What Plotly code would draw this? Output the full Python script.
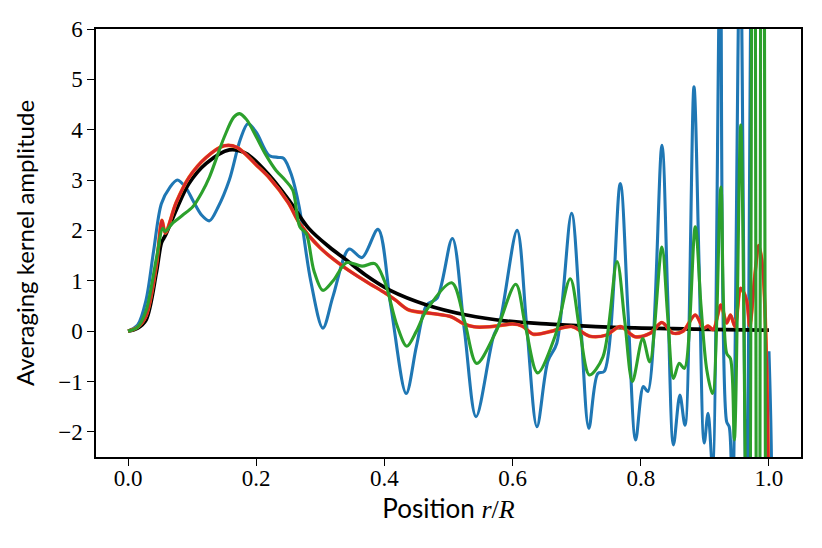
import plotly.graph_objects as go

# ---- data ----
black_x = [0.0, 0.015, 0.028, 0.044, 0.052, 0.056, 0.06, 0.075, 0.095, 0.122, 0.158, 0.184, 0.22, 0.251,
           0.282, 0.314, 0.34, 0.37, 0.409, 0.466, 0.528, 0.591, 0.658, 0.75, 0.85, 0.93, 1.0]
black_y = [0.0, 0.06, 0.22, 1.15, 1.75, 1.85, 1.95, 2.4, 2.93, 3.33, 3.6, 3.53, 3.1, 2.6,
           2.04, 1.67, 1.42, 1.12, 0.81, 0.52, 0.32, 0.2, 0.14, 0.08, 0.05, 0.03, 0.02]

red_x = [0.0, 0.015, 0.028, 0.044, 0.053, 0.058, 0.075, 0.095, 0.122, 0.15, 0.17, 0.2, 0.22, 0.25,
         0.268, 0.3, 0.336, 0.372, 0.398, 0.417, 0.438, 0.474, 0.505, 0.52, 0.54, 0.567, 0.6, 0.615,
         0.632, 0.658, 0.692, 0.72, 0.746, 0.768, 0.791, 0.815, 0.833, 0.85, 0.866, 0.885, 0.898,
         0.905, 0.913, 0.925, 0.934, 0.94, 0.947, 0.956, 0.965, 0.97, 0.978, 0.984, 0.99, 0.996, 1.0]
red_y = [0.0, 0.08, 0.3, 1.3, 2.2, 1.95, 2.55, 3.05, 3.45, 3.68, 3.65, 3.3, 3.05, 2.55,
         2.13, 1.65, 1.28, 0.98, 0.78, 0.62, 0.42, 0.35, 0.28, 0.17, 0.085, 0.09, 0.14, 0.1,
         -0.06, -0.01, 0.09, -0.1, -0.08, 0.09, -0.11, -0.04, 0.17, -0.04, 0.0, 0.32, 0.06,
         0.1, 0.03, 0.52, 0.16, 0.32, 0.09, 0.85, 0.62, 0.1, 1.1, 1.7, 1.3, -0.5, -4.0]

blue_x = [0.0, 0.015, 0.028, 0.04, 0.052, 0.065, 0.077, 0.09, 0.101, 0.115, 0.127, 0.14, 0.158, 0.175,
          0.187, 0.2, 0.22, 0.235, 0.243, 0.255, 0.267, 0.285, 0.304, 0.32, 0.345, 0.365, 0.39, 0.41,
          0.434, 0.45, 0.466, 0.482, 0.506, 0.525, 0.543, 0.57, 0.58, 0.607, 0.622, 0.638, 0.655,
          0.669, 0.692, 0.706, 0.719, 0.733, 0.743, 0.768, 0.78, 0.792, 0.804, 0.811, 0.833, 0.842,
          0.851, 0.861, 0.869, 0.883, 0.891, 0.899, 0.905, 0.912, 0.924, 0.934, 0.938, 0.943, 0.955,
          0.965, 0.974, 0.985, 0.995, 1.0]
blue_y = [0.0, 0.12, 0.61, 1.6, 2.53, 2.85, 3.0, 2.85, 2.6, 2.3, 2.19, 2.45, 3.0, 3.8,
          4.12, 3.95, 3.49, 3.45, 3.43, 3.1, 2.47, 1.0, 0.06, 0.7, 1.63, 1.46, 2.02, 0.5,
          -1.24, -0.3, 0.52, 0.65, 1.84, 0.0, -1.7, -0.11, 0.18, 2.0, 0.1, -1.9, -0.6,
          -0.24, 2.34, 0.2, -1.93, -0.84, -0.8, 2.93, 0.4, -2.16, -1.1, -1.2, 3.69, 0.7,
          -2.26, -1.27, -1.87, 4.85, 1.3, -2.22, -1.63, -2.7, 7.5, -1.8, -1.9, -3.5, 8.0,
          -4.0, 9.0, -5.0, -5.0, -0.4]

green_x = [0.0, 0.015, 0.028, 0.045, 0.054, 0.058, 0.07, 0.085, 0.101, 0.115, 0.127, 0.15, 0.165, 0.174,
           0.185, 0.2, 0.215, 0.231, 0.245, 0.257, 0.268, 0.278, 0.29, 0.304, 0.32, 0.341, 0.365, 0.385,
           0.4, 0.42, 0.435, 0.45, 0.466, 0.505, 0.525, 0.544, 0.573, 0.605, 0.62, 0.639, 0.666, 0.69,
           0.705, 0.72, 0.741, 0.763, 0.775, 0.787, 0.803, 0.814, 0.833, 0.842, 0.851, 0.86, 0.868,
           0.885, 0.894, 0.903, 0.912, 0.925, 0.934, 0.94, 0.946, 0.956, 0.968, 0.976, 0.983,
           0.99, 0.998]
green_y = [0.0, 0.08, 0.4, 1.5, 2.04, 1.98, 2.15, 2.3, 2.47, 2.75, 3.06, 3.85, 4.25, 4.32,
           4.2, 3.86, 3.5, 3.19, 3.0, 2.8, 2.07, 1.94, 1.2, 0.81, 1.0, 1.36, 1.29, 1.34,
           1.0, 0.1, -0.3, 0.0, 0.42, 0.96, 0.2, -0.64, -0.04, 0.93, 0.1, -0.83, -0.11, 1.04,
           0.0, -0.87, -0.51, 1.38, 0.2, -1.0, -0.15, -0.61, 1.67, 0.3, -0.94, -0.64, -0.74,
           2.07, 0.5, -0.77, -1.24, 2.86, -0.44, -0.55, -2.16, 4.09, -8.0, 20.0, -20.0,
           25.0, -25.0]

x_ticks = [0.0, 0.2, 0.4, 0.6, 0.8, 1.0]
y_ticks = [-2, -1, 0, 1, 2, 3, 4, 5, 6]

fig = go.Figure()
fig.add_trace(go.Scatter(x=blue_x, y=blue_y, mode="lines", line=dict(color="#1f77b4", width=3.1, shape="spline", smoothing=0.9)))
fig.add_trace(go.Scatter(x=black_x, y=black_y, mode="lines", line=dict(color="#000000", width=3.7, shape="spline", smoothing=0.9)))
fig.add_trace(go.Scatter(x=red_x, y=red_y, mode="lines", line=dict(color="#ff7f0e", width=3.6, shape="spline", smoothing=0.9)))
fig.add_trace(go.Scatter(x=red_x, y=red_y, mode="lines", line=dict(color="#d62728", width=3.0, shape="spline", smoothing=0.9)))
fig.add_trace(go.Scatter(x=green_x, y=green_y, mode="lines", line=dict(color="#2ca02c", width=3.1, shape="spline", smoothing=0.9)))

tickfont = dict(family="Liberation Serif, DejaVu Serif, serif", size=23, color="black")
# the page body adds an 8px offset, so the figure is 8px smaller and margins compensate
fig.update_layout(
    width=814, height=540, autosize=False,
    margin=dict(l=88, r=21, t=21, b=91, autoexpand=False),
    plot_bgcolor="white", paper_bgcolor="white",
    showlegend=False,
)
fig.update_xaxes(range=[-0.05, 1.05], tickvals=x_ticks, ticktext=[f"{v:.1f}" for v in x_ticks],
                 showgrid=False, zeroline=False, showline=True, linecolor="black", linewidth=1.5,
                 mirror=True, ticks="outside", ticklen=7, tickwidth=1.3, tickcolor="black",
                 tickfont=tickfont, ticklabelstandoff=-7,
                 title=dict(text="Position <span style='font-family:Liberation Serif'><i>r</i>/<i>R</i></span>",
                            font=dict(family="Lato, DejaVu Sans, sans-serif", size=26, color="black"), standoff=9))
fig.update_yaxes(range=[-2.5, 6], tickvals=y_ticks, ticktext=[str(v).replace("-", "\u2212") for v in y_ticks],
                 showgrid=False, zeroline=False, showline=True, linecolor="black", linewidth=1.5,
                 mirror=True, ticks="outside", ticklen=7, tickwidth=1.3, tickcolor="black",
                 tickfont=tickfont,
                 title=dict(text="Averaging kernel amplitude",
                            font=dict(family="Lato, DejaVu Sans, sans-serif", size=24, color="black"), standoff=17))

fig.write_html("out.html")
